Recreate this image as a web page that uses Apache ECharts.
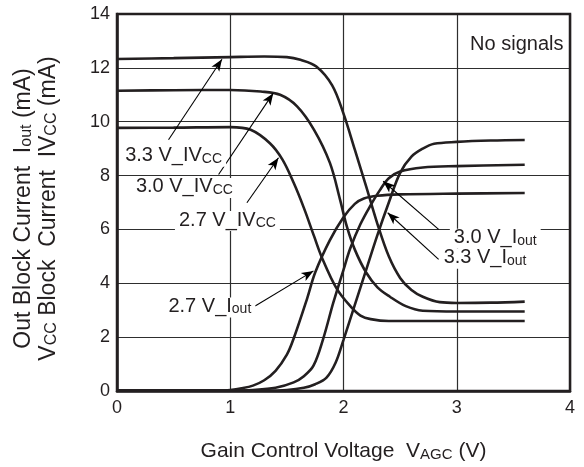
<!DOCTYPE html>
<html><head><meta charset="utf-8">
<script src="https://cdn.jsdelivr.net/npm/echarts@6/dist/echarts.min.js"></script>
<style>html,body{margin:0;padding:0;background:#fff}#c{width:584px;height:467px}</style>
</head><body><div id="c"></div>
<script>
// ---- data ----
const xTicks = [0, 1, 2, 3, 4];
const yTicks = [0, 2, 4, 6, 8, 10, 12, 14];

const ivcc33X = [0, 0.5, 1.0, 1.3, 1.5, 1.62, 1.76, 1.9, 2.0, 2.1, 2.2, 2.3, 2.4, 2.5, 2.6, 2.7, 2.85, 3.0, 3.3, 3.6];
const ivcc33Y = [12.33, 12.36, 12.4, 12.42, 12.4, 12.3, 12.05, 11.35, 10.3, 8.96, 7.6, 6.2, 5.0, 4.2, 3.75, 3.5, 3.3, 3.27, 3.28, 3.32];

const ivcc30X = [0, 0.5, 1.0, 1.27, 1.44, 1.59, 1.74, 1.88, 1.97, 2.03, 2.1, 2.2, 2.3, 2.41, 2.55, 2.7, 3.0, 3.6];
const ivcc30Y = [11.15, 11.17, 11.18, 11.12, 11.0, 10.57, 9.7, 8.47, 7.1, 6.1, 5.25, 4.4, 3.85, 3.5, 3.15, 2.98, 2.95, 2.95];

const ivcc27X = [0, 0.5, 1.0, 1.18, 1.35, 1.46, 1.56, 1.65, 1.74, 1.81, 1.94, 2.06, 2.15, 2.24, 2.4, 3.0, 3.6];
const ivcc27Y = [9.77, 9.78, 9.8, 9.7, 9.2, 8.6, 7.73, 6.8, 5.75, 4.95, 3.8, 3.15, 2.8, 2.67, 2.6, 2.6, 2.6];

const iout27X = [0, 0.5, 0.9, 1.0, 1.1, 1.2, 1.3, 1.4, 1.5, 1.56, 1.68, 1.75, 1.88, 2.0, 2.1, 2.18, 2.3, 2.5, 3.0, 3.6];
const iout27Y = [0.02, 0.02, 0.02, 0.04, 0.1, 0.2, 0.4, 0.75, 1.35, 1.95, 3.45, 4.4, 5.6, 6.45, 6.95, 7.15, 7.25, 7.3, 7.33, 7.35];

const iout30X = [0, 0.5, 1.0, 1.2, 1.4, 1.56, 1.65, 1.735, 1.82, 1.91, 2.0, 2.06, 2.15, 2.24, 2.32, 2.4, 2.5, 2.7, 3.0, 3.6];
const iout30Y = [0.02, 0.02, 0.02, 0.04, 0.12, 0.32, 0.55, 0.94, 1.93, 3.28, 4.5, 5.3, 6.2, 6.9, 7.45, 7.9, 8.15, 8.3, 8.35, 8.4];

const iout33X = [0, 0.5, 1.0, 1.3, 1.5, 1.65, 1.75, 1.85, 1.93, 2.0, 2.1, 2.2, 2.3, 2.4, 2.5, 2.6, 2.7, 2.8, 3.0, 3.3, 3.6];
const iout33Y = [0.02, 0.02, 0.02, 0.02, 0.04, 0.12, 0.25, 0.5, 1.05, 1.9, 3.2, 4.5, 5.8, 7.0, 8.1, 8.7, 9.0, 9.18, 9.25, 9.3, 9.32];

// annotation texts: [main, small]
const labelIvcc33 = ['3.3 V_IV', 'CC'];
const labelIvcc30 = ['3.0 V_IV', 'CC'];
const labelIvcc27 = ['2.7 V_IV', 'CC'];
const labelIout27 = ['2.7 V_I', 'out'];
const labelIout30 = ['3.0 V_I', 'out'];
const labelIout33 = ['3.3 V_I', 'out'];
const noteText = 'No signals';

// annotation anchor points in data units: label centre, arrow start, arrow tip
const annIvcc33 = { at: [0.5, 8.7], from: [0.455, 9.33], to: [0.927, 12.32] };
const annIvcc30 = { at: [0.595, 7.54], from: [0.897, 8.04], to: [1.38, 11.06] };
const annIvcc27 = { at: [0.975, 6.31], from: [1.147, 6.99], to: [1.426, 8.66] };
const annIout27 = { at: [0.82, 3.1], from: [1.22, 3.16], to: [1.735, 4.46] };
const annIout30 = { at: [3.34, 5.65], from: [2.84, 6.0], to: [2.35, 7.79] };
const annIout33 = { at: [3.25, 4.91], from: [2.84, 4.89], to: [2.39, 6.62] };
const annNote = { at: [3.53, 12.82] };

// ---- chart ----
const FONT = '"Liberation Sans", Arial, Helvetica, sans-serif';
const INK = '#231f20';
const zip = (xs, ys) => xs.map((x, i) => [x, ys[i]]);

const rich = {
  m: { fontSize: 20, fontFamily: FONT, color: INK, lineHeight: 18, verticalAlign: 'bottom' },
  s: { fontSize: 14, fontFamily: FONT, color: INK, lineHeight: 17, verticalAlign: 'bottom' }
};

function curve(name, xs, ys, ann, txt) {
  const s = {
    name, type: 'line', data: zip(xs, ys), smooth: 0.35, showSymbol: false, symbol: 'none',
    lineStyle: { color: INK, width: 2.6 }, z: 3, silent: true
  };
  if (ann) {
    s.markLine = {
      silent: true, symbol: ['none', 'arrow'], symbolSize: [7, 12], z: 4,
      lineStyle: { color: '#000', width: 1.1, type: 'solid' }, label: { show: false },
      data: [[{ coord: ann.from }, { coord: ann.to }]]
    };
    s.markPoint = {
      silent: true, symbol: 'circle', symbolSize: 1, z: 5,
      itemStyle: { color: 'rgba(0,0,0,0)' },
      label: {
        show: true, position: 'inside', backgroundColor: '#fff', padding: [1, 4, 1, 4],
        formatter: '{m|' + txt[0] + '}{s|' + txt[1] + '}', rich
      },
      data: [{ coord: ann.at }]
    };
  }
  return s;
}

const series = [
  curve('ivcc33', ivcc33X, ivcc33Y, annIvcc33, labelIvcc33),
  curve('ivcc30', ivcc30X, ivcc30Y, annIvcc30, labelIvcc30),
  curve('ivcc27', ivcc27X, ivcc27Y, annIvcc27, labelIvcc27),
  curve('iout27', iout27X, iout27Y, annIout27, labelIout27),
  curve('iout30', iout30X, iout30Y, annIout30, labelIout30),
  curve('iout33', iout33X, iout33Y, annIout33, labelIout33)
];
series[0].markPoint.data.push({
  coord: annNote.at,
  label: { formatter: '{m|' + noteText + '}', backgroundColor: 'transparent' }
});

const titleRich = (fs, sfs, lh) => ({
  m: { fontSize: fs, fontFamily: FONT, color: INK, lineHeight: lh, verticalAlign: 'bottom' },
  s: { fontSize: sfs, fontFamily: FONT, color: INK, lineHeight: lh - 2, verticalAlign: 'bottom' }
});

const chart = echarts.init(document.getElementById('c'), null, { renderer: 'canvas' });
chart.setOption({
  animation: false,
  backgroundColor: '#fff',
  grid: { left: 117, right: 14, top: 14, bottom: 75, show: true, borderColor: INK, borderWidth: 2.5, backgroundColor: 'transparent', z: 6 },
  xAxis: {
    type: 'value', min: xTicks[0], max: xTicks[xTicks.length - 1], interval: 1,
    axisLine: { show: true, lineStyle: { color: INK, width: 2.5 } },
    axisTick: { show: false },
    axisLabel: { color: INK, fontSize: 18, fontFamily: FONT, margin: 8 },
    splitLine: { show: true, lineStyle: { color: '#2e2e2e', width: 1.2 } },
    name: '{m|Gain Control Voltage  V}{s|AGC}{m| (V)}',
    nameLocation: 'middle', nameGap: 47,
    nameTextStyle: { rich: titleRich(21, 15, 24) }
  },
  yAxis: {
    type: 'value', min: yTicks[0], max: yTicks[yTicks.length - 1], interval: 2,
    axisLine: { show: true, lineStyle: { color: INK, width: 2.5 } },
    axisTick: { show: false },
    axisLabel: { color: INK, fontSize: 18, fontFamily: FONT, margin: 7 },
    splitLine: { show: true, lineStyle: { color: '#2e2e2e', width: 1.2 } },
    name: '{m|Out Block Current  I}{s|out}{m| (mA)}\n{m|V}{s|CC}{m| Block  Current  IV}{s|CC}{m| (mA)}',
    nameLocation: 'middle', nameGap: 57,
    nameTextStyle: {
      padding: [0, 12, 0, 0],
      rich: titleRich(23, 16, 25)
    }
  },
  series
});
</script>
</body></html>
